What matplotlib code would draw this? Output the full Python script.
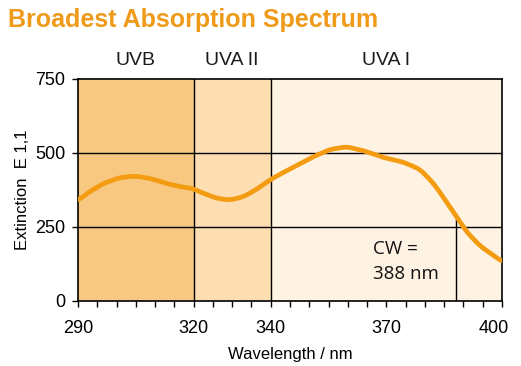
import numpy as np
import matplotlib.pyplot as plt
import matplotlib.transforms as mtransforms
from matplotlib.ticker import MultipleLocator

# spectrum
wavelength = [290, 293, 296.6, 300.9, 304.8, 308.7, 313, 316.5, 319.5, 322.5, 326, 329.4,
              332.9, 336.3, 339.8, 342.4, 345.9, 351, 355.4, 359.7, 364, 369.2, 374.4,
              378.7, 382.2, 385.6, 388.2, 390.8, 394.3, 397.7, 400]
extinction = [340, 369, 397, 417, 422, 414, 397, 386, 381, 364, 347, 341,
              352, 377, 409, 428, 452, 487, 512, 521, 508, 485, 469,
              445, 398, 335, 285, 234, 186, 155, 133]

bands = ['UVB', 'UVA II', 'UVA I']
band_edges = [290, 320, 340, 400]
band_colors = ['#F8C880', '#FCDEB2', '#FEF3E3']
x_ticks = [290, 320, 340, 370, 400]
y_ticks = [0, 250, 500, 750]
cw = 388

plt.rcParams['font.family'] = ['Liberation Sans', 'DejaVu Sans']

fig = plt.figure(figsize=(5.21, 3.66), dpi=100)
ax = fig.add_axes([0.1497, 0.1776, 0.8138, 0.6066])

for i in range(len(bands)):
    ax.axvspan(band_edges[i], band_edges[i + 1], color=band_colors[i], lw=0, zorder=0)
    ax.text((band_edges[i] + band_edges[i + 1]) / 2, 785, bands[i], ha='center', va='bottom',
            fontsize=14, color='#1a1a1a')

for x in band_edges[1:3]:
    ax.axvline(x, color='black', lw=1, zorder=1)
for y in y_ticks[1:3]:
    ax.axhline(y, color='black', lw=1, zorder=1)

# smooth the read points a little for drawing
xs = np.linspace(290, 400, 400)
ys = np.interp(xs, wavelength, extinction)
k = np.ones(9) / 9
ys_s = np.convolve(np.pad(ys, 4, mode='edge'), k, mode='valid')

cw_y = np.interp(cw, xs, ys_s)
ax.plot([cw, cw], [0, cw_y], color='black', lw=1, zorder=1)

ax.plot(xs, ys_s, color='#F39C12', lw=3.4, solid_capstyle='round', zorder=3)

ax.text(366.5, 174, 'CW =', fontsize=13.5, family=['Open Sans', 'DejaVu Sans'],
        color='#111111', va='center')
ax.text(366.5, 91, '388 nm', fontsize=13.5, family=['Open Sans', 'DejaVu Sans'],
        color='#111111', va='center')

ax.set_xlim(290, 400)
ax.set_ylim(0, 750)
ax.set_xticks(x_ticks)
ax.set_yticks(y_ticks)
ax.xaxis.set_minor_locator(MultipleLocator(5))
ax.tick_params(axis='both', labelsize=13, length=4, width=1, colors='black', pad=5)
ax.tick_params(axis='x', which='minor', length=4, width=1)
ax.tick_params(axis='x', pad=10)
for s in ax.spines.values():
    s.set_linewidth(1.2)

# the last label sits a bit inside the axis end in the original
last = ax.get_xticklabels()[-1]
last.set_transform(last.get_transform() +
                   mtransforms.ScaledTranslation(-0.08, 0, fig.dpi_scale_trans))

ax.set_xlabel('Wavelength / nm', fontsize=12, labelpad=7)
ax.set_ylabel('Extinction  E 1,1', fontsize=12, labelpad=4)

fig.text(0.015, 0.945, 'Broadest Absorption Spectrum', fontsize=18, fontweight='bold',
         color='#F09A1A', va='center', ha='left')

fig.savefig('out.png', dpi=100)
